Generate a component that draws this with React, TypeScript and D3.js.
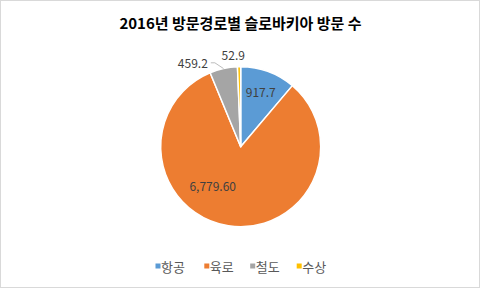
import React from "react";
import * as d3 from "d3";

const categories = ["항공", "육로", "철도", "수상"];
const values = [917.7, 6779.6, 459.2, 52.9];
const valueLabels = ["917.7", "6,779.60", "459.2", "52.9"];
const colors = ["#5B9BD5", "#ED7D31", "#A5A5A5", "#FFC000"];
const title = "2016년 방문경로별 슬로바키아 방문 수";

const W = 481;
const H = 289;
const FONT = "'Noto Sans CJK KR', 'Noto Sans', sans-serif";

export default function App() {
  const cx = 240.7;
  const cy = 146.7;
  const r = 80;
  const pie = d3.pie<number>().sort(null).value((d) => d)(values);
  const arc = d3.arc<d3.PieArcDatum<number>>().innerRadius(0).outerRadius(r);

  const polar = (rad: number, ang: number) => [cx + rad * Math.sin(ang), cy - rad * Math.cos(ang)];

  const blue = pie[0];
  const bluePos = polar(r * 0.73, (blue.startAngle + blue.endAngle) / 2);
  const orange = pie[1];
  const orangePos = polar(r * 0.6, orange.startAngle + (orange.endAngle - orange.startAngle) * 0.59);
  const gray = pie[2];
  const grayMid = (gray.startAngle + gray.endAngle) / 2;
  const grayEdge = polar(r, grayMid);
  const grayLabel = polar(r * 1.22, grayMid - 0.32);
  const yellow = pie[3];
  const yellowLabel = polar(r * 1.16, (yellow.startAngle + yellow.endAngle) / 2 - 0.06);

  const legendX = [155.5, 204.3, 250.2, 296.7];
  const legendY = 266.5;

  return (
    <svg
      width={W}
      height={H}
      style={{ position: "fixed", left: 0, top: 0, background: "#fff" }}
      fontFamily={FONT}
    >
      <rect x={0.5} y={0.5} width={479} height={287} fill="#fff" stroke="#D9D9D9" strokeWidth={1} />
      <text x={240.5} y={28.5} textAnchor="middle" fontSize={15} fontWeight="bold" fill="#000">
        {title}
      </text>
      <g transform={`translate(${cx},${cy})`}>
        {pie.map((p, i) => (
          <path key={i} d={arc(p) || ""} fill={colors[i]} stroke="#fff" strokeWidth={1.5} strokeLinejoin="round" />
        ))}
      </g>
      <text x={bluePos[0]} y={bluePos[1]} textAnchor="middle" dominantBaseline="central" fontSize={12} fill="#404040">
        {valueLabels[0]}
      </text>
      <text x={orangePos[0]} y={orangePos[1]} textAnchor="middle" dominantBaseline="central" fontSize={12} fill="#404040">
        {valueLabels[1]}
      </text>
      <polyline
        points={`${grayLabel[0] + 20},${grayLabel[1]} ${grayLabel[0] + 24},${grayLabel[1]} ${grayEdge[0]},${grayEdge[1]}`}
        fill="none"
        stroke="#A6A6A6"
        strokeWidth={0.75}
      />
      <text x={grayLabel[0] + 17} y={grayLabel[1]} textAnchor="end" dominantBaseline="central" fontSize={12} fill="#404040">
        {valueLabels[2]}
      </text>
      <text x={yellowLabel[0]} y={yellowLabel[1]} textAnchor="middle" dominantBaseline="central" fontSize={12} fill="#404040">
        {valueLabels[3]}
      </text>
      {categories.map((c, i) => (
        <g key={c}>
          <rect x={legendX[i]} y={legendY - 3} width={5} height={5} fill={colors[i]} />
          <text x={legendX[i] + 5.5} y={legendY} dominantBaseline="central" fontSize={13} fill="#595959">
            {c}
          </text>
        </g>
      ))}
    </svg>
  );
}
